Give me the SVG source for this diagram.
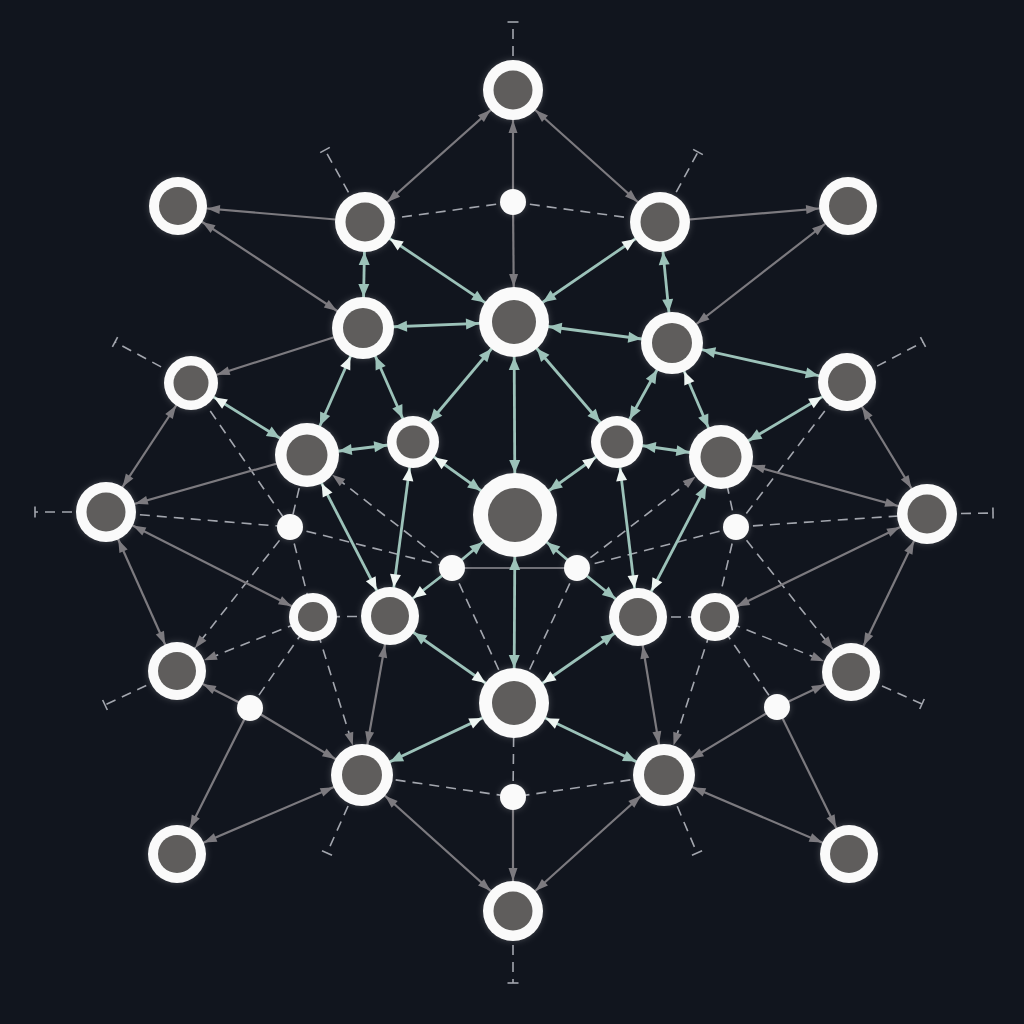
<svg xmlns="http://www.w3.org/2000/svg" width="1024" height="1024" viewBox="0 0 1024 1024">
<style>
.g{stroke:#7c7a7f;stroke-width:2.2;fill:none}
.t{stroke:#9cc2b9;stroke-width:2.8;fill:none}
.d{stroke:#a3a6ae;stroke-width:1.6;stroke-dasharray:10 7;fill:none}
.thin{stroke:#8f8e95;stroke-width:1.6;fill:none}
.ring{fill:#fafafa}
.core{fill:#5e5d5c}
.dot{fill:#fafafa}
.gh{fill:#7c7a7f}
.th{fill:#9cc2b9}
.wh{fill:#eef5f2}
</style>
<defs>
<filter id="glow" x="-30%" y="-30%" width="160%" height="160%">
<feGaussianBlur in="SourceAlpha" stdDeviation="3" result="b"/>
<feFlood flood-color="#ffffff" flood-opacity="0.22"/>
<feComposite in2="b" operator="in" result="g"/>
<feMerge><feMergeNode in="g"/><feMergeNode in="SourceGraphic"/></feMerge>
</filter>
<marker id="g24" markerUnits="userSpaceOnUse" orient="auto-start-reverse" refX="24" refY="0" markerWidth="1" markerHeight="1" overflow="visible"><path class="gh" d="M0,0 L-13,-4.5 L-13,4.5 Z"/></marker>
<marker id="g27" markerUnits="userSpaceOnUse" orient="auto-start-reverse" refX="27" refY="0" markerWidth="1" markerHeight="1" overflow="visible"><path class="gh" d="M0,0 L-13,-4.5 L-13,4.5 Z"/></marker>
<marker id="g29" markerUnits="userSpaceOnUse" orient="auto-start-reverse" refX="29" refY="0" markerWidth="1" markerHeight="1" overflow="visible"><path class="gh" d="M0,0 L-13,-4.5 L-13,4.5 Z"/></marker>
<marker id="g30" markerUnits="userSpaceOnUse" orient="auto-start-reverse" refX="30" refY="0" markerWidth="1" markerHeight="1" overflow="visible"><path class="gh" d="M0,0 L-13,-4.5 L-13,4.5 Z"/></marker>
<marker id="g31" markerUnits="userSpaceOnUse" orient="auto-start-reverse" refX="31" refY="0" markerWidth="1" markerHeight="1" overflow="visible"><path class="gh" d="M0,0 L-13,-4.5 L-13,4.5 Z"/></marker>
<marker id="g32" markerUnits="userSpaceOnUse" orient="auto-start-reverse" refX="32" refY="0" markerWidth="1" markerHeight="1" overflow="visible"><path class="gh" d="M0,0 L-13,-4.5 L-13,4.5 Z"/></marker>
<marker id="g35" markerUnits="userSpaceOnUse" orient="auto-start-reverse" refX="35" refY="0" markerWidth="1" markerHeight="1" overflow="visible"><path class="gh" d="M0,0 L-13,-4.5 L-13,4.5 Z"/></marker>
<marker id="t26" markerUnits="userSpaceOnUse" orient="auto-start-reverse" refX="26" refY="0" markerWidth="1" markerHeight="1" overflow="visible"><path class="th" d="M0,0 L-13,-5.5 L-13,5.5 Z"/></marker>
<marker id="t29" markerUnits="userSpaceOnUse" orient="auto-start-reverse" refX="29" refY="0" markerWidth="1" markerHeight="1" overflow="visible"><path class="th" d="M0,0 L-13,-5.5 L-13,5.5 Z"/></marker>
<marker id="t30" markerUnits="userSpaceOnUse" orient="auto-start-reverse" refX="30" refY="0" markerWidth="1" markerHeight="1" overflow="visible"><path class="th" d="M0,0 L-13,-5.5 L-13,5.5 Z"/></marker>
<marker id="t31" markerUnits="userSpaceOnUse" orient="auto-start-reverse" refX="31" refY="0" markerWidth="1" markerHeight="1" overflow="visible"><path class="th" d="M0,0 L-13,-5.5 L-13,5.5 Z"/></marker>
<marker id="t32" markerUnits="userSpaceOnUse" orient="auto-start-reverse" refX="32" refY="0" markerWidth="1" markerHeight="1" overflow="visible"><path class="th" d="M0,0 L-13,-5.5 L-13,5.5 Z"/></marker>
<marker id="t35" markerUnits="userSpaceOnUse" orient="auto-start-reverse" refX="35" refY="0" markerWidth="1" markerHeight="1" overflow="visible"><path class="th" d="M0,0 L-13,-5.5 L-13,5.5 Z"/></marker>
<marker id="t42" markerUnits="userSpaceOnUse" orient="auto-start-reverse" refX="42" refY="0" markerWidth="1" markerHeight="1" overflow="visible"><path class="th" d="M0,0 L-13,-5.5 L-13,5.5 Z"/></marker>
<marker id="w26" markerUnits="userSpaceOnUse" orient="auto-start-reverse" refX="26" refY="0" markerWidth="1" markerHeight="1" overflow="visible"><path class="wh" d="M0,0 L-13,-5.5 L-13,5.5 Z"/></marker>
<marker id="w27" markerUnits="userSpaceOnUse" orient="auto-start-reverse" refX="27" refY="0" markerWidth="1" markerHeight="1" overflow="visible"><path class="wh" d="M0,0 L-13,-5.5 L-13,5.5 Z"/></marker>
<marker id="w29" markerUnits="userSpaceOnUse" orient="auto-start-reverse" refX="29" refY="0" markerWidth="1" markerHeight="1" overflow="visible"><path class="wh" d="M0,0 L-13,-5.5 L-13,5.5 Z"/></marker>
<marker id="w30" markerUnits="userSpaceOnUse" orient="auto-start-reverse" refX="30" refY="0" markerWidth="1" markerHeight="1" overflow="visible"><path class="wh" d="M0,0 L-13,-5.5 L-13,5.5 Z"/></marker>
<marker id="w31" markerUnits="userSpaceOnUse" orient="auto-start-reverse" refX="31" refY="0" markerWidth="1" markerHeight="1" overflow="visible"><path class="wh" d="M0,0 L-13,-5.5 L-13,5.5 Z"/></marker>
<marker id="w32" markerUnits="userSpaceOnUse" orient="auto-start-reverse" refX="32" refY="0" markerWidth="1" markerHeight="1" overflow="visible"><path class="wh" d="M0,0 L-13,-5.5 L-13,5.5 Z"/></marker>
<marker id="w35" markerUnits="userSpaceOnUse" orient="auto-start-reverse" refX="35" refY="0" markerWidth="1" markerHeight="1" overflow="visible"><path class="wh" d="M0,0 L-13,-5.5 L-13,5.5 Z"/></marker>
<marker id="cap" markerUnits="userSpaceOnUse" orient="auto" refX="0" refY="0" markerWidth="1" markerHeight="1" overflow="visible"><path d="M0,-5.5 L0,5.5" stroke="#a3a6ae" stroke-width="1.6"/></marker>
</defs>
<rect width="1024" height="1024" fill="#11151e"/>
<g id="connectors">
<line class="d" x1="513" y1="90" x2="513" y2="22" marker-end="url(#cap)"/>
<line class="d" x1="365" y1="222" x2="325" y2="150" marker-end="url(#cap)"/>
<line class="d" x1="660" y1="222" x2="698" y2="152" marker-end="url(#cap)"/>
<line class="d" x1="191" y1="383" x2="115" y2="342" marker-end="url(#cap)"/>
<line class="d" x1="847" y1="382" x2="923" y2="342" marker-end="url(#cap)"/>
<line class="d" x1="106" y1="512" x2="35" y2="512" marker-end="url(#cap)"/>
<line class="d" x1="927" y1="514" x2="993" y2="513" marker-end="url(#cap)"/>
<line class="d" x1="177" y1="671" x2="105" y2="705" marker-end="url(#cap)"/>
<line class="d" x1="851" y1="672" x2="922" y2="704" marker-end="url(#cap)"/>
<line class="d" x1="362" y1="775" x2="327" y2="853" marker-end="url(#cap)"/>
<line class="d" x1="664" y1="775" x2="697" y2="853" marker-end="url(#cap)"/>
<line class="d" x1="513" y1="911" x2="513" y2="983" marker-end="url(#cap)"/>
<line class="d" x1="513" y1="202" x2="365" y2="222"/>
<line class="d" x1="513" y1="202" x2="660" y2="222"/>
<line class="d" x1="106" y1="512" x2="290" y2="527"/>
<line class="d" x1="191" y1="383" x2="290" y2="527"/>
<line class="d" x1="307" y1="455" x2="290" y2="527"/>
<line class="d" x1="290" y1="527" x2="313" y2="617"/>
<line class="d" x1="290" y1="527" x2="177" y2="671" marker-end="url(#g29)"/>
<line class="d" x1="290" y1="527" x2="452" y2="568"/>
<line class="d" x1="452" y1="568" x2="307" y2="455" marker-end="url(#g32)"/>
<line class="d" x1="313" y1="617" x2="177" y2="671" marker-end="url(#g29)"/>
<line class="d" x1="313" y1="617" x2="390" y2="616"/>
<line class="d" x1="313" y1="617" x2="250" y2="708"/>
<line class="d" x1="313" y1="617" x2="362" y2="775" marker-end="url(#g31)"/>
<line class="d" x1="452" y1="568" x2="514" y2="703"/>
<line class="d" x1="577" y1="568" x2="514" y2="703"/>
<line class="d" x1="577" y1="568" x2="721" y2="457" marker-end="url(#g32)"/>
<line class="d" x1="736" y1="527" x2="927" y2="514"/>
<line class="d" x1="736" y1="527" x2="847" y2="382"/>
<line class="d" x1="736" y1="527" x2="721" y2="457"/>
<line class="d" x1="736" y1="527" x2="715" y2="617"/>
<line class="d" x1="736" y1="527" x2="851" y2="672" marker-end="url(#g29)"/>
<line class="d" x1="736" y1="527" x2="577" y2="568"/>
<line class="d" x1="715" y1="617" x2="851" y2="672" marker-end="url(#g29)"/>
<line class="d" x1="715" y1="617" x2="638" y2="617"/>
<line class="d" x1="715" y1="617" x2="777" y2="707"/>
<line class="d" x1="715" y1="617" x2="664" y2="775" marker-end="url(#g31)"/>
<line class="d" x1="514" y1="703" x2="513" y2="797"/>
<line class="d" x1="362" y1="775" x2="513" y2="797"/>
<line class="d" x1="664" y1="775" x2="513" y2="797"/>
<line class="g" x1="513" y1="202" x2="513" y2="90" marker-end="url(#g30)"/>
<line class="g" x1="513" y1="202" x2="514" y2="322" marker-end="url(#g35)"/>
<line class="g" x1="513" y1="90" x2="365" y2="222" marker-start="url(#g30)" marker-end="url(#g30)"/>
<line class="g" x1="513" y1="90" x2="660" y2="222" marker-start="url(#g30)" marker-end="url(#g30)"/>
<line class="g" x1="365" y1="222" x2="178" y2="206" marker-end="url(#g29)"/>
<line class="g" x1="178" y1="206" x2="363" y2="328" marker-start="url(#g29)" marker-end="url(#g31)"/>
<line class="g" x1="660" y1="222" x2="848" y2="206" marker-end="url(#g29)"/>
<line class="g" x1="848" y1="206" x2="672" y2="343" marker-start="url(#g29)" marker-end="url(#g31)"/>
<line class="g" x1="363" y1="328" x2="191" y2="383" marker-end="url(#g27)"/>
<line class="g" x1="307" y1="455" x2="106" y2="512" marker-end="url(#g30)"/>
<line class="g" x1="191" y1="383" x2="106" y2="512" marker-start="url(#g27)" marker-end="url(#g30)"/>
<line class="g" x1="721" y1="457" x2="927" y2="514" marker-start="url(#g32)" marker-end="url(#g30)"/>
<line class="g" x1="847" y1="382" x2="927" y2="514" marker-start="url(#g29)" marker-end="url(#g30)"/>
<line class="g" x1="106" y1="512" x2="313" y2="617" marker-start="url(#g30)" marker-end="url(#g24)"/>
<line class="g" x1="106" y1="512" x2="177" y2="671" marker-start="url(#g30)" marker-end="url(#g29)"/>
<line class="g" x1="927" y1="514" x2="715" y2="617" marker-start="url(#g30)" marker-end="url(#g24)"/>
<line class="g" x1="927" y1="514" x2="851" y2="672" marker-start="url(#g30)" marker-end="url(#g29)"/>
<line class="g" x1="390" y1="616" x2="362" y2="775" marker-start="url(#g29)" marker-end="url(#g31)"/>
<line class="g" x1="638" y1="617" x2="664" y2="775" marker-start="url(#g29)" marker-end="url(#g31)"/>
<line class="g" x1="250" y1="708" x2="177" y2="671" marker-end="url(#g29)"/>
<line class="g" x1="250" y1="708" x2="362" y2="775" marker-end="url(#g31)"/>
<line class="g" x1="250" y1="708" x2="177" y2="854" marker-end="url(#g29)"/>
<line class="g" x1="362" y1="775" x2="177" y2="854" marker-start="url(#g31)" marker-end="url(#g29)"/>
<line class="g" x1="362" y1="775" x2="513" y2="911" marker-start="url(#g31)" marker-end="url(#g30)"/>
<line class="g" x1="664" y1="775" x2="513" y2="911" marker-start="url(#g31)" marker-end="url(#g30)"/>
<line class="g" x1="513" y1="797" x2="513" y2="911" marker-end="url(#g30)"/>
<line class="g" x1="777" y1="707" x2="851" y2="672" marker-end="url(#g29)"/>
<line class="g" x1="777" y1="707" x2="664" y2="775" marker-end="url(#g31)"/>
<line class="g" x1="777" y1="707" x2="849" y2="854" marker-end="url(#g29)"/>
<line class="g" x1="664" y1="775" x2="849" y2="854" marker-start="url(#g31)" marker-end="url(#g29)"/>
<line class="thin" x1="452" y1="568" x2="577" y2="568"/>
<line class="t" x1="365" y1="222" x2="514" y2="322" marker-start="url(#w30)" marker-end="url(#t35)"/>
<line class="t" x1="660" y1="222" x2="514" y2="322" marker-start="url(#w30)" marker-end="url(#t35)"/>
<line class="t" x1="365" y1="222" x2="363" y2="328" marker-start="url(#t30)" marker-end="url(#t31)"/>
<line class="t" x1="660" y1="222" x2="672" y2="343" marker-start="url(#t30)" marker-end="url(#t31)"/>
<line class="t" x1="363" y1="328" x2="514" y2="322" marker-start="url(#t31)" marker-end="url(#t35)"/>
<line class="t" x1="514" y1="322" x2="672" y2="343" marker-start="url(#t35)" marker-end="url(#t31)"/>
<line class="t" x1="191" y1="383" x2="307" y2="455" marker-start="url(#w27)" marker-end="url(#t32)"/>
<line class="t" x1="363" y1="328" x2="307" y2="455" marker-start="url(#w31)" marker-end="url(#t32)"/>
<line class="t" x1="363" y1="328" x2="413" y2="442" marker-start="url(#t31)" marker-end="url(#t26)"/>
<line class="t" x1="307" y1="455" x2="413" y2="442" marker-start="url(#t32)" marker-end="url(#t26)"/>
<line class="t" x1="413" y1="442" x2="514" y2="322" marker-start="url(#t26)" marker-end="url(#t35)"/>
<line class="t" x1="672" y1="343" x2="617" y2="442" marker-start="url(#t31)" marker-end="url(#t26)"/>
<line class="t" x1="672" y1="343" x2="721" y2="457" marker-start="url(#w31)" marker-end="url(#t32)"/>
<line class="t" x1="617" y1="442" x2="721" y2="457" marker-start="url(#t26)" marker-end="url(#t32)"/>
<line class="t" x1="617" y1="442" x2="514" y2="322" marker-start="url(#t26)" marker-end="url(#t35)"/>
<line class="t" x1="721" y1="457" x2="847" y2="382" marker-start="url(#t32)" marker-end="url(#w29)"/>
<line class="t" x1="672" y1="343" x2="847" y2="382" marker-start="url(#t31)" marker-end="url(#t29)"/>
<line class="t" x1="514" y1="322" x2="515" y2="515" marker-start="url(#t35)" marker-end="url(#t42)"/>
<line class="t" x1="413" y1="442" x2="515" y2="515" marker-start="url(#w26)" marker-end="url(#t42)"/>
<line class="t" x1="617" y1="442" x2="515" y2="515" marker-start="url(#w26)" marker-end="url(#t42)"/>
<line class="t" x1="307" y1="455" x2="390" y2="616" marker-start="url(#w32)" marker-end="url(#w29)"/>
<line class="t" x1="413" y1="442" x2="390" y2="616" marker-start="url(#w26)" marker-end="url(#w29)"/>
<line class="t" x1="617" y1="442" x2="638" y2="617" marker-start="url(#w26)" marker-end="url(#w29)"/>
<line class="t" x1="721" y1="457" x2="638" y2="617" marker-start="url(#t32)" marker-end="url(#w29)"/>
<line class="t" x1="452" y1="568" x2="390" y2="616" marker-end="url(#w29)"/>
<line class="t" x1="452" y1="568" x2="515" y2="515" marker-end="url(#t42)"/>
<line class="t" x1="577" y1="568" x2="638" y2="617" marker-end="url(#t29)"/>
<line class="t" x1="577" y1="568" x2="515" y2="515" marker-end="url(#t42)"/>
<line class="t" x1="515" y1="515" x2="514" y2="703" marker-start="url(#t42)" marker-end="url(#t35)"/>
<line class="t" x1="390" y1="616" x2="514" y2="703" marker-start="url(#t29)" marker-end="url(#w35)"/>
<line class="t" x1="638" y1="617" x2="514" y2="703" marker-start="url(#t29)" marker-end="url(#w35)"/>
<line class="t" x1="514" y1="703" x2="362" y2="775" marker-start="url(#w35)" marker-end="url(#t31)"/>
<line class="t" x1="514" y1="703" x2="664" y2="775" marker-start="url(#w35)" marker-end="url(#t31)"/>
</g>
<g id="nodes" filter="url(#glow)">
<g id="n-top"><circle class="ring" cx="513" cy="90" r="30"/><circle class="core" cx="513" cy="90" r="19.5"/></g>
<g id="n-a"><circle class="ring" cx="178" cy="206" r="29"/><circle class="core" cx="178" cy="206" r="19"/></g>
<g id="n-b"><circle class="ring" cx="365" cy="222" r="30"/><circle class="core" cx="365" cy="222" r="19.5"/></g>
<g id="n-c"><circle class="ring" cx="660" cy="222" r="30"/><circle class="core" cx="660" cy="222" r="19.5"/></g>
<g id="n-d"><circle class="ring" cx="848" cy="206" r="29"/><circle class="core" cx="848" cy="206" r="19"/></g>
<g id="n-e"><circle class="ring" cx="363" cy="328" r="31"/><circle class="core" cx="363" cy="328" r="20"/></g>
<g id="n-f"><circle class="ring" cx="514" cy="322" r="35"/><circle class="core" cx="514" cy="322" r="22"/></g>
<g id="n-g"><circle class="ring" cx="672" cy="343" r="31"/><circle class="core" cx="672" cy="343" r="20"/></g>
<g id="n-h"><circle class="ring" cx="191" cy="383" r="27"/><circle class="core" cx="191" cy="383" r="17.5"/></g>
<g id="n-i"><circle class="ring" cx="847" cy="382" r="29"/><circle class="core" cx="847" cy="382" r="19"/></g>
<g id="n-j"><circle class="ring" cx="307" cy="455" r="32"/><circle class="core" cx="307" cy="455" r="20.5"/></g>
<g id="n-k"><circle class="ring" cx="413" cy="442" r="26"/><circle class="core" cx="413" cy="442" r="16.5"/></g>
<g id="n-l"><circle class="ring" cx="617" cy="442" r="26"/><circle class="core" cx="617" cy="442" r="16.5"/></g>
<g id="n-m"><circle class="ring" cx="721" cy="457" r="32"/><circle class="core" cx="721" cy="457" r="20.5"/></g>
<g id="n-center"><circle class="ring" cx="515" cy="515" r="42"/><circle class="core" cx="515" cy="515" r="27"/></g>
<g id="n-o"><circle class="ring" cx="106" cy="512" r="30"/><circle class="core" cx="106" cy="512" r="19.5"/></g>
<g id="n-p"><circle class="ring" cx="927" cy="514" r="30"/><circle class="core" cx="927" cy="514" r="19.5"/></g>
<g id="n-q"><circle class="ring" cx="313" cy="617" r="24"/><circle class="core" cx="313" cy="617" r="15"/></g>
<g id="n-r"><circle class="ring" cx="390" cy="616" r="29"/><circle class="core" cx="390" cy="616" r="19"/></g>
<g id="n-s"><circle class="ring" cx="638" cy="617" r="29"/><circle class="core" cx="638" cy="617" r="19"/></g>
<g id="n-t"><circle class="ring" cx="715" cy="617" r="24"/><circle class="core" cx="715" cy="617" r="15"/></g>
<g id="n-u"><circle class="ring" cx="177" cy="671" r="29"/><circle class="core" cx="177" cy="671" r="19"/></g>
<g id="n-v"><circle class="ring" cx="851" cy="672" r="29"/><circle class="core" cx="851" cy="672" r="19"/></g>
<g id="n-w"><circle class="ring" cx="514" cy="703" r="35"/><circle class="core" cx="514" cy="703" r="22"/></g>
<g id="n-x"><circle class="ring" cx="362" cy="775" r="31"/><circle class="core" cx="362" cy="775" r="20"/></g>
<g id="n-y"><circle class="ring" cx="664" cy="775" r="31"/><circle class="core" cx="664" cy="775" r="20"/></g>
<g id="n-z"><circle class="ring" cx="177" cy="854" r="29"/><circle class="core" cx="177" cy="854" r="19"/></g>
<g id="n-aa"><circle class="ring" cx="849" cy="854" r="29"/><circle class="core" cx="849" cy="854" r="19"/></g>
<g id="n-bottom"><circle class="ring" cx="513" cy="911" r="30"/><circle class="core" cx="513" cy="911" r="19.5"/></g>
<g id="j1"><circle class="dot" cx="513" cy="202" r="13"/></g>
<g id="j2"><circle class="dot" cx="290" cy="527" r="13"/></g>
<g id="j3"><circle class="dot" cx="736" cy="527" r="13"/></g>
<g id="j4"><circle class="dot" cx="452" cy="568" r="13"/></g>
<g id="j5"><circle class="dot" cx="577" cy="568" r="13"/></g>
<g id="j6"><circle class="dot" cx="250" cy="708" r="13"/></g>
<g id="j7"><circle class="dot" cx="777" cy="707" r="13"/></g>
<g id="j8"><circle class="dot" cx="513" cy="797" r="13"/></g>
</g>
</svg>
